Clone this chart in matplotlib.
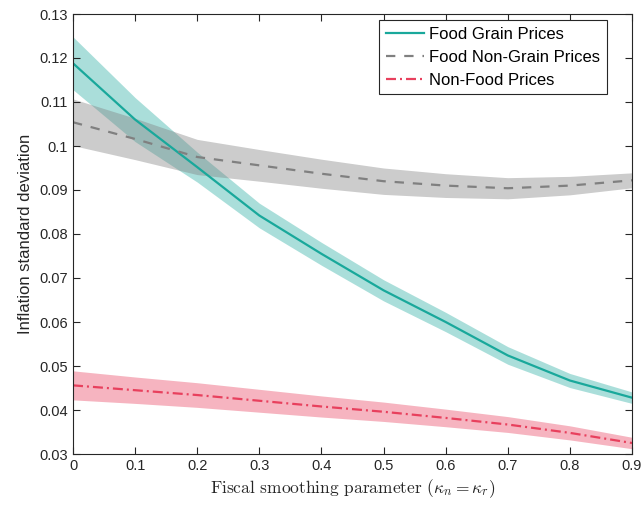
import numpy as np
import matplotlib
matplotlib.use('Agg')
import matplotlib.pyplot as plt
from matplotlib.ticker import FuncFormatter

plt.rcParams['font.family'] = ['Liberation Sans', 'DejaVu Sans']
plt.rcParams['mathtext.fontset'] = 'cm'

kappa = [0.0, 0.1, 0.2, 0.3, 0.4, 0.5, 0.6, 0.7, 0.8, 0.9]

# Food grain prices
grain = [0.1188, 0.1060, 0.0952, 0.0842, 0.0755, 0.0672, 0.0600, 0.0524, 0.0467, 0.0428]
grain_band = [0.0060, 0.0050, 0.0034, 0.0028, 0.0026, 0.0024, 0.0022, 0.0020, 0.0016, 0.0013]

# Food non-grain prices
nongrain = [0.1054, 0.1016, 0.0975, 0.0956, 0.0937, 0.0920, 0.0910, 0.0904, 0.0910, 0.0922]
nongrain_band = [0.0053, 0.0047, 0.0040, 0.0036, 0.0033, 0.0030, 0.0027, 0.0024, 0.0021, 0.0017]

# Non-food prices
nonfood = [0.0456, 0.0445, 0.0434, 0.0421, 0.0408, 0.0396, 0.0382, 0.0367, 0.0348, 0.0325]
nonfood_band = [0.0033, 0.0030, 0.0028, 0.0026, 0.0024, 0.0022, 0.0020, 0.0018, 0.0016, 0.0013]

x = np.array(kappa)

fig = plt.figure(figsize=(6.44, 5.07), dpi=100)
ax = fig.add_axes([73 / 644, 53 / 507, 559 / 644, 440 / 507])

series = [
    (grain, grain_band, '#19a89b', 0.37, '-', 'Food Grain Prices'),
    (nongrain, nongrain_band, '#808080', 0.40, (0, (4.2, 4.0)), 'Food Non-Grain Prices'),
    (nonfood, nonfood_band, '#e8405d', 0.39, (0, (4.5, 1.8, 0.9, 1.8)), 'Non-Food Prices'),
]

for y, band, col, a, ls, lab in series:
    y = np.array(y)
    b = np.array(band)
    ax.fill_between(x, y - b, y + b, color=col, alpha=a, linewidth=0)

for y, band, col, a, ls, lab in series:
    ax.plot(x, y, color=col, linestyle=ls, linewidth=1.6, label=lab)

ax.set_xlim(0, 0.9)
ax.set_ylim(0.03, 0.13)
ax.set_xticks(kappa)
ax.set_yticks(np.arange(0.03, 0.1301, 0.01))
fmt = FuncFormatter(lambda v, p: '%g' % round(v, 4))
ax.xaxis.set_major_formatter(fmt)
ax.yaxis.set_major_formatter(fmt)
ax.tick_params(direction='in', top=True, right=True, labelsize=10.5, colors='#262626', length=5)
for s in ax.spines.values():
    s.set_color('#262626')
    s.set_linewidth(0.8)

ax.set_ylabel('Inflation standard deviation', fontsize=12, color='#262626', labelpad=5)
ax.set_xlabel(r'Fiscal smoothing parameter ($\kappa_n = \kappa_r$)', fontsize=12.5,
              fontfamily='cmr10', color='#262626', labelpad=3)

leg = ax.legend(loc='upper right', bbox_to_anchor=(0.9553, 0.9864), borderaxespad=0,
                fontsize=12, fancybox=False, framealpha=1, edgecolor='#262626',
                handlelength=2.3, handletextpad=0.3, labelspacing=0.48, borderpad=0.4)
leg.get_frame().set_linewidth(0.8)

fig.savefig('out.png', dpi=100)
